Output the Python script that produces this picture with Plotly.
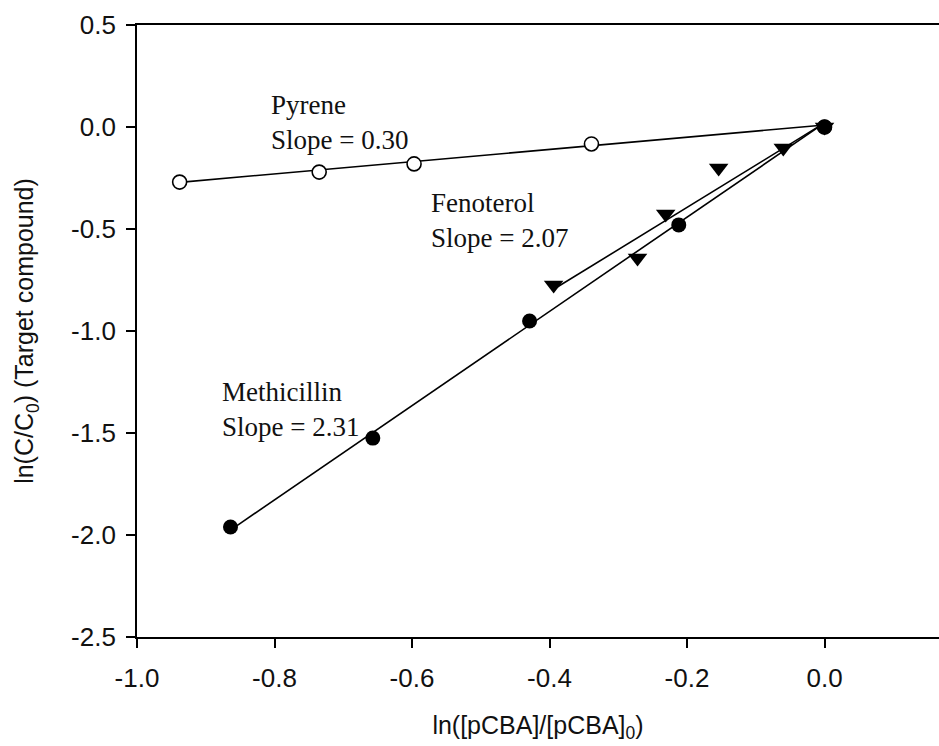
import numpy as np
import plotly.graph_objects as go

# Measured points: ln([pCBA]/[pCBA]0) vs ln(C/C0)
pyrene_x = [-0.938, -0.735, -0.597, -0.339, 0.0]
pyrene_y = [-0.270, -0.221, -0.181, -0.083, 0.0]

fenoterol_x = [-0.394, -0.272, -0.231, -0.154, -0.060, 0.0]
fenoterol_y = [-0.775, -0.642, -0.426, -0.201, -0.103, 0.0]

methicillin_x = [-0.864, -0.657, -0.429, -0.212, 0.0]
methicillin_y = [-1.961, -1.525, -0.951, -0.480, 0.0]

# Linear fits (slope, intercept)
pyrene_fit = (0.30, 0.010)
fenoterol_fit = (2.07, 0.020)
methicillin_fit = (2.31, 0.020)

label_text = ["Pyrene<br>Slope = 0.30", "Fenoterol<br>Slope = 2.07", "Methicillin<br>Slope = 2.31"]
label_x = [-0.808, -0.576, -0.880]
label_y = [0.022, -0.460, -1.387]

x_ticks = [-1.0, -0.8, -0.6, -0.4, -0.2, 0.0]
y_ticks = [0.5, 0.0, -0.5, -1.0, -1.5, -2.0, -2.5]

fig = go.Figure()

# Regression lines drawn first so the open markers sit on top
for xs, (m, b) in [(pyrene_x, pyrene_fit), (fenoterol_x, fenoterol_fit), (methicillin_x, methicillin_fit)]:
    xl = np.array([min(xs), max(xs)])
    fig.add_trace(go.Scatter(x=xl, y=m * xl + b, mode="lines",
                             line=dict(color="black", width=1.6), showlegend=False, hoverinfo="skip"))

fig.add_trace(go.Scatter(x=pyrene_x, y=pyrene_y, mode="markers", name="Pyrene",
                         marker=dict(symbol="circle", size=14, color="white",
                                     line=dict(color="black", width=1.6)), showlegend=False))
fig.add_trace(go.Scatter(x=methicillin_x, y=methicillin_y, mode="markers", name="Methicillin",
                         marker=dict(symbol="circle", size=15, color="black"), showlegend=False))
fig.add_trace(go.Scatter(x=fenoterol_x, y=fenoterol_y, mode="markers", name="Fenoterol",
                         marker=dict(symbol="triangle-down", size=17, color="black"), showlegend=False))

for txt, ax, ay in zip(label_text, label_x, label_y):
    fig.add_annotation(x=ax, y=ay, text=txt, showarrow=False, xanchor="left", yanchor="middle",
                       align="left", font=dict(family="Liberation Serif", size=27, color="#111"))

tick_font = dict(family="Liberation Sans, Arial", size=26, color="#111")
title_font = dict(family="Liberation Sans, Arial", size=25, color="#111")
fig.update_xaxes(range=[-1.0, 0.1665], tickvals=x_ticks, ticktext=[f"{v:.1f}" for v in x_ticks],
                 showgrid=False, zeroline=False, showline=True, linecolor="black", linewidth=1.8,
                 mirror=True, ticks="outside", ticklen=9, tickwidth=1.6, tickcolor="black",
                 tickfont=tick_font, ticklabelstandoff=8,
                 title=dict(text="ln([pCBA]/[pCBA]<sub>0</sub>)", font=title_font, standoff=24))
fig.update_yaxes(range=[-2.5, 0.5], tickvals=y_ticks, ticktext=[f"{v:.1f}" for v in y_ticks],
                 showgrid=False, zeroline=False, showline=True, linecolor="black", linewidth=1.8,
                 ticks="outside", ticklen=9, tickwidth=1.6, tickcolor="black",
                 tickfont=tick_font, ticklabelstandoff=5,
                 title=dict(text="ln(C/C<sub>0</sub>) (Target compound)", font=title_font, standoff=30))

fig.update_layout(width=939, height=746, margin=dict(l=137, r=0, t=25, b=109),
                  plot_bgcolor="white", paper_bgcolor="white")

fig.write_html("out.html")
